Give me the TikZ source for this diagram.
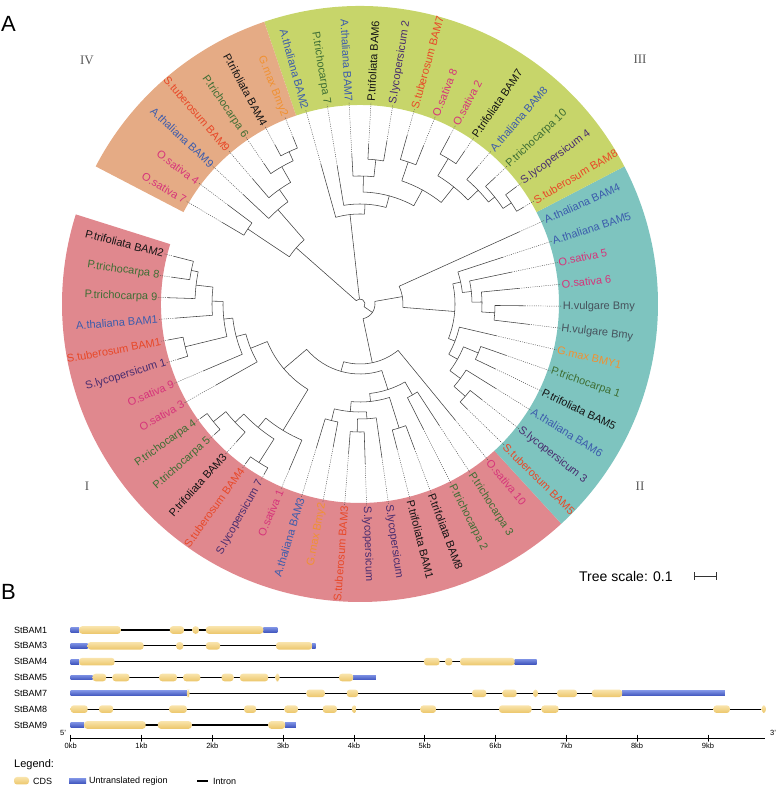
\documentclass[tikz,border=0pt]{standalone}
\usepackage{fontspec}
\setmainfont{Liberation Sans}
\newfontfamily\romfont{Liberation Serif}
\usetikzlibrary{arrows,calc,positioning}

\definecolor{secI}{RGB}{224,136,142}
\definecolor{secII}{RGB}{126,196,191}
\definecolor{secIII}{RGB}{199,213,106}
\definecolor{secIV}{RGB}{229,171,133}
\definecolor{trif}{RGB}{20,20,20}
\definecolor{trich}{RGB}{62,110,52}
\definecolor{atha}{RGB}{60,92,172}
\definecolor{stub}{RGB}{232,72,40}
\definecolor{osat}{RGB}{214,52,122}
\definecolor{slyc}{RGB}{72,44,110}
\definecolor{gmax}{RGB}{240,145,50}
\definecolor{hvul}{RGB}{70,82,92}
\definecolor{cdscol}{RGB}{236,198,106}
\definecolor{cdstop}{RGB}{249,228,172}
\definecolor{utrcol}{RGB}{64,86,190}
\definecolor{utrtop}{RGB}{122,142,226}

% one clade: parent radius, angle/radius of first child, angle/radius of last child
\newcommand\clade[5]{\draw[branch] (#2:#3) -- (#2:#1) arc[start angle=#2,end angle=#4,radius=#1pt] -- (#4:#5);}
\newcommand\sectorfill[3]{\fill[#3] (#1:199) arc[start angle=#1,end angle=#2,radius=199pt] -- (#2:298) arc[start angle=#2,end angle=#1,radius=298pt] -- cycle;}

\begin{document}
\begin{tikzpicture}[x=1pt,y=1pt,line join=round,line cap=round]
\tikzset{branch/.style={draw=black!75,line width=0.55pt},
  leafdot/.style={draw=black!70,line width=0.45pt,line cap=butt,dash pattern=on 1pt off 1.2pt},
  lab/.style={font=\fontsize{11}{13}\selectfont,inner sep=0.6pt},
  gname/.style={font=\fontsize{9}{11}\selectfont,inner sep=0pt},
  tick/.style={font=\fontsize{7.5}{9}\selectfont,inner sep=0pt},
  intron/.style={draw=black,line width=1.1pt,line cap=butt},
  cds/.style={top color=cdstop,bottom color=cdscol,rounded corners=3pt},
  utr/.style={top color=utrtop,bottom color=utrcol}}
\useasboundingbox (0,0) rectangle (777,787);

\node[anchor=base west,font=\fontsize{22}{24}\selectfont,inner sep=0pt] (pA) at (1,755) {A};
\node[anchor=base west,font=\fontsize{22}{24}\selectfont,inner sep=0pt] (pB) at (1,187) {B};

% ---- circular tree
\begin{scope}[shift={(360,483)}]
\sectorfill{162.5}{312.5}{secI}
\sectorfill{312.5}{387.5}{secII}
\sectorfill{27.5}{108.75}{secIII}
\sectorfill{108.75}{152.5}{secIV}

% clade I
\clade{172}{165.625}{192}{171.875}{190}
\clade{165}{168.75}{172}{178.125}{192}
\clade{148}{173.4375}{165}{184.375}{185}
\clade{180}{190.625}{195}{196.875}{190}
\clade{137}{178.906}{148}{193.75}{180}
\clade{128}{186.33}{137}{203.125}{170}
\clade{118}{194.73}{128}{209.375}{165}
\clade{188}{215.625}{196}{221.875}{195}
\clade{172}{218.75}{188}{228.125}{185}
\clade{188}{234.375}{196}{240.625}{195}
\clade{160}{223.4375}{172}{237.5}{188}
\clade{148}{230.47}{160}{246.875}{180}
\clade{100}{202.05}{118}{238.67}{148}
\clade{120}{253.125}{150}{259.375}{145}
\clade{128}{265.625}{150}{271.875}{160}
\clade{115}{268.75}{128}{278.125}{155}
\clade{108}{256.25}{120}{273.44}{115}
\clade{130}{284.375}{150}{290.625}{155}
\clade{98}{264.84}{108}{287.5}{130}
\clade{105}{296.875}{140}{303.125}{145}
\clade{90}{276.17}{98}{300}{105}
\clade{70}{220.36}{100}{288.09}{90}
\clade{60}{254.22}{70}{309.375}{150}
% clade II
\clade{140}{315.625}{150}{321.875}{155}
\clade{125}{318.75}{140}{328.125}{160}
\clade{128}{334.375}{150}{340.625}{155}
\clade{112}{323.44}{125}{337.5}{128}
\clade{102}{330.47}{112}{346.875}{140}
\clade{135}{353.125}{170}{359.375}{165}
\clade{122}{356.25}{135}{365.625}{160}
\clade{112}{360.94}{122}{371.875}{155}
\clade{103}{366.41}{112}{378.125}{150}
\clade{95}{338.67}{102}{372.27}{103}
\clade{43}{355.47}{95}{384.375}{175}
% clade III
\clade{182}{30.625}{190}{36.875}{195}
\clade{172}{33.75}{182}{43.125}{185}
\clade{164}{38.44}{172}{49.375}{180}
\clade{170}{55.625}{185}{61.875}{190}
\clade{150}{43.91}{164}{58.75}{170}
\clade{150}{68.125}{170}{74.375}{175}
\clade{130}{51.33}{150}{71.25}{150}
\clade{145}{80.625}{165}{86.875}{160}
\clade{128}{83.75}{145}{93.125}{150}
\clade{112}{61.29}{130}{88.44}{128}
\clade{100}{74.86}{112}{99.375}{140}
\clade{90}{87.12}{100}{105.625}{145}
% clade IV
\clade{168}{111.875}{180}{118.125}{180}
\clade{158}{115}{168}{124.375}{170}
\clade{140}{119.69}{158}{130.625}{165}
\clade{125}{125.16}{140}{136.875}{160}
\clade{135}{143.125}{165}{149.375}{160}
\clade{85}{131.02}{125}{146.25}{135}
% root
\clade{15}{281.8}{60}{369.92}{43}
\draw[branch] (325.86:15) -- (325.86:5) arc[start angle=-34.14,end angle=138.63,radius=5pt] -- (138.63:85);
\draw[branch] (96.37:5) -- (96.37:90);

% leaves: index/tip radius/colour/name
\foreach \i/\tip/\col/\nm in {0/192/trif/P.trifoliata BAM2,1/190/trich/P.trichocarpa 8,2/192/trich/P.trichocarpa 9,
  3/185/atha/A.thaliana BAM1,4/195/stub/S.tuberosum BAM1,5/190/slyc/S.lycopersicum 1,6/170/osat/O.sativa 9,
  7/165/osat/O.sativa 3,8/196/trich/P.trichocarpa 4,9/195/trich/P.trichocarpa 5,10/185/trif/P.trifoliata BAM3,
  11/196/stub/S.tuberosum BAM4,12/195/slyc/S.lycopersicum 7,13/180/osat/O.sativa 1,14/150/atha/A.thaliana BAM3,
  15/145/gmax/G.max Bmy2,16/150/stub/S.tuberosum BAM3,17/160/slyc/S.lycopersicum,18/155/slyc/S.lycopersicum,
  19/150/trif/P.trifoliata BAM1,20/155/trif/P.trifoliata BAM8,21/140/trich/P.trichocarpa 2,22/145/trich/P.trichocarpa 3,
  23/150/osat/O.sativa 10,24/150/stub/S.tuberosum BAM5,25/155/slyc/S.lycopersicum 3,26/160/atha/A.thaliana BAM6,
  27/150/trif/P.trifoliata BAM5,28/155/trich/P.trichocarpa 1,29/140/gmax/G.max BMY1,30/170/hvul/H.vulgare Bmy,
  31/165/hvul/H.vulgare Bmy,32/160/osat/O.sativa 6,33/155/osat/O.sativa 5,34/150/atha/A.thaliana BAM5,
  35/175/atha/A.thaliana BAM4,36/190/stub/S.tuberosum BAM8,37/195/slyc/S.lycopersicum 4,38/185/trich/P.trichocarpa 10,
  39/180/atha/A.thaliana BAM8,40/185/trif/P.trifoliata BAM7,41/190/osat/O.sativa 2,42/170/osat/O.sativa 8,
  43/175/stub/S.tuberosum BAM7,44/165/slyc/S.lycopersicum 2,45/160/trif/P.trifoliata BAM6,46/150/atha/A.thaliana BAM7,
  47/140/trich/P.trichocarpa 7,48/145/atha/A.thaliana BAM2,49/180/gmax/G.max Bmy2,50/180/trif/P.trifoliata BAM4,
  51/170/trich/P.trichocarpa 6,52/165/stub/S.tuberosum BAM9,53/160/atha/A.thaliana BAM9,54/165/osat/O.sativa 4,
  55/160/osat/O.sativa 7}{
  \pgfmathsetmacro\ang{mod(165.625+6.25*\i,360)}
  \pgfmathtruncatemacro\lft{(\ang>90)&&(\ang<270)}
  \ifnum\lft=1
    \node[lab,text=\col,anchor=east,rotate=\ang-180] (l\i) at (\ang:202) {\nm};
  \else
    \node[lab,text=\col,anchor=west,rotate=\ang] (l\i) at (\ang:202) {\nm};
  \fi
  \draw[leafdot] (\ang:\tip) -- (l\i);
}
\end{scope}

% clade numbers
\node[font=\romfont\fontsize{13}{15}\selectfont,text=black!65] (nIV) at (87,727) {IV};
\node[font=\romfont\fontsize{13}{15}\selectfont,text=black!65] (nIII) at (640,728) {III};
\node[font=\romfont\fontsize{13}{15}\selectfont,text=black!65] (nII) at (640,301) {II};
\node[font=\romfont\fontsize{13}{15}\selectfont,text=black!65] (nI) at (87,301) {I};

% tree scale
\node[anchor=west,font=\fontsize{14}{16}\selectfont,inner sep=0pt] (ts) at (579,211) {Tree scale: 0.1};
\draw[|-|,line width=0.8pt,black!80] (694,211) -- (717,211);

% ---- gene structures
\foreach \m/\nm in {0/StBAM1,1/StBAM3,2/StBAM4,3/StBAM5,4/StBAM7,5/StBAM8,6/StBAM9}
  \node[gname,anchor=west] (g\m) at (14,{157-15.83*\m}) {\nm};
\begin{scope}[shift={(70.7pt,0pt)},x=70.8pt]
\foreach \m/\e in {0/2.92,1/3.46,2/6.58,3/4.31,4/9.24,5/9.82,6/3.18}
  \draw[intron] (0,{157-15.83*\m}) -- (\e,{157-15.83*\m});
\foreach \m/\s/\e in {0/0/0.12,0/2.72/2.92,1/0/0.24,1/3.41/3.46,2/0/0.12,2/6.27/6.58,3/0/0.31,3/3.99/4.31,
  4/0/1.64,4/7.79/9.24,6/0/0.19,6/3.03/3.18}
  \path[utr] (\s,{157-15.83*\m-2.4}) rectangle (\e,{157-15.83*\m+2.4});
\foreach \m/\s/\e in {0/0.12/0.71,0/1.40/1.60,0/1.72/1.81,0/1.91/2.72,
  1/0.24/1.03,1/1.49/1.59,1/1.91/2.11,1/2.90/3.41,
  2/0.12/0.62,2/4.99/5.21,2/5.29/5.39,2/5.50/6.27,
  3/0.31/0.50,3/0.59/0.83,3/1.25/1.50,3/1.59/1.83,3/2.13/2.30,3/2.39/2.79,3/2.89/2.95,3/3.79/3.99,
  4/1.64/1.68,4/3.33/3.59,4/3.90/4.06,4/5.67/5.87,4/6.10/6.30,4/6.53/6.60,4/6.87/7.15,4/7.36/7.79,
  5/0/0.24,5/0.40/0.60,5/1.39/1.64,5/2.45/2.62,5/3.02/3.21,5/3.56/3.76,5/3.97/4.04,5/4.94/5.16,
  5/6.05/6.51,5/6.65/6.89,5/9.08/9.31,5/9.76/9.82,
  6/0.19/1.06,6/1.23/1.71,6/2.79/3.03}
  \path[cds] (\s,{157-15.83*\m-3.8}) rectangle (\e,{157-15.83*\m+3.8});
% axis
\draw[intron,line width=1.2pt] (0,48.7) -- (9.8,48.7);
\foreach \m in {0,...,9}{
  \draw[line width=0.8pt] (\m,45.7) -- (\m,51.7);
  \node[tick] (k\m) at (\m,41) {\m kb};
}
\end{scope}
\node[tick] (five) at (63,54.5) {5'};
\node[tick] (three) at (773,54.5) {3'};

% legend
\node[anchor=west,font=\fontsize{11}{13}\selectfont,inner sep=0pt] (leg) at (14,22) {Legend:};
\path[cds] (14,2.5) rectangle (29,10);
\node[gname,anchor=west] (lcds) at (33,6) {CDS};
\path[utr] (69,3.6) rectangle (86,8.4);
\node[gname,anchor=west] (lutr) at (89,6) {Untranslated region};
\draw[intron] (197,6) -- (208,6);
\node[gname,anchor=west] (lint) at (213,6) {Intron};
\end{tikzpicture}
\end{document}
